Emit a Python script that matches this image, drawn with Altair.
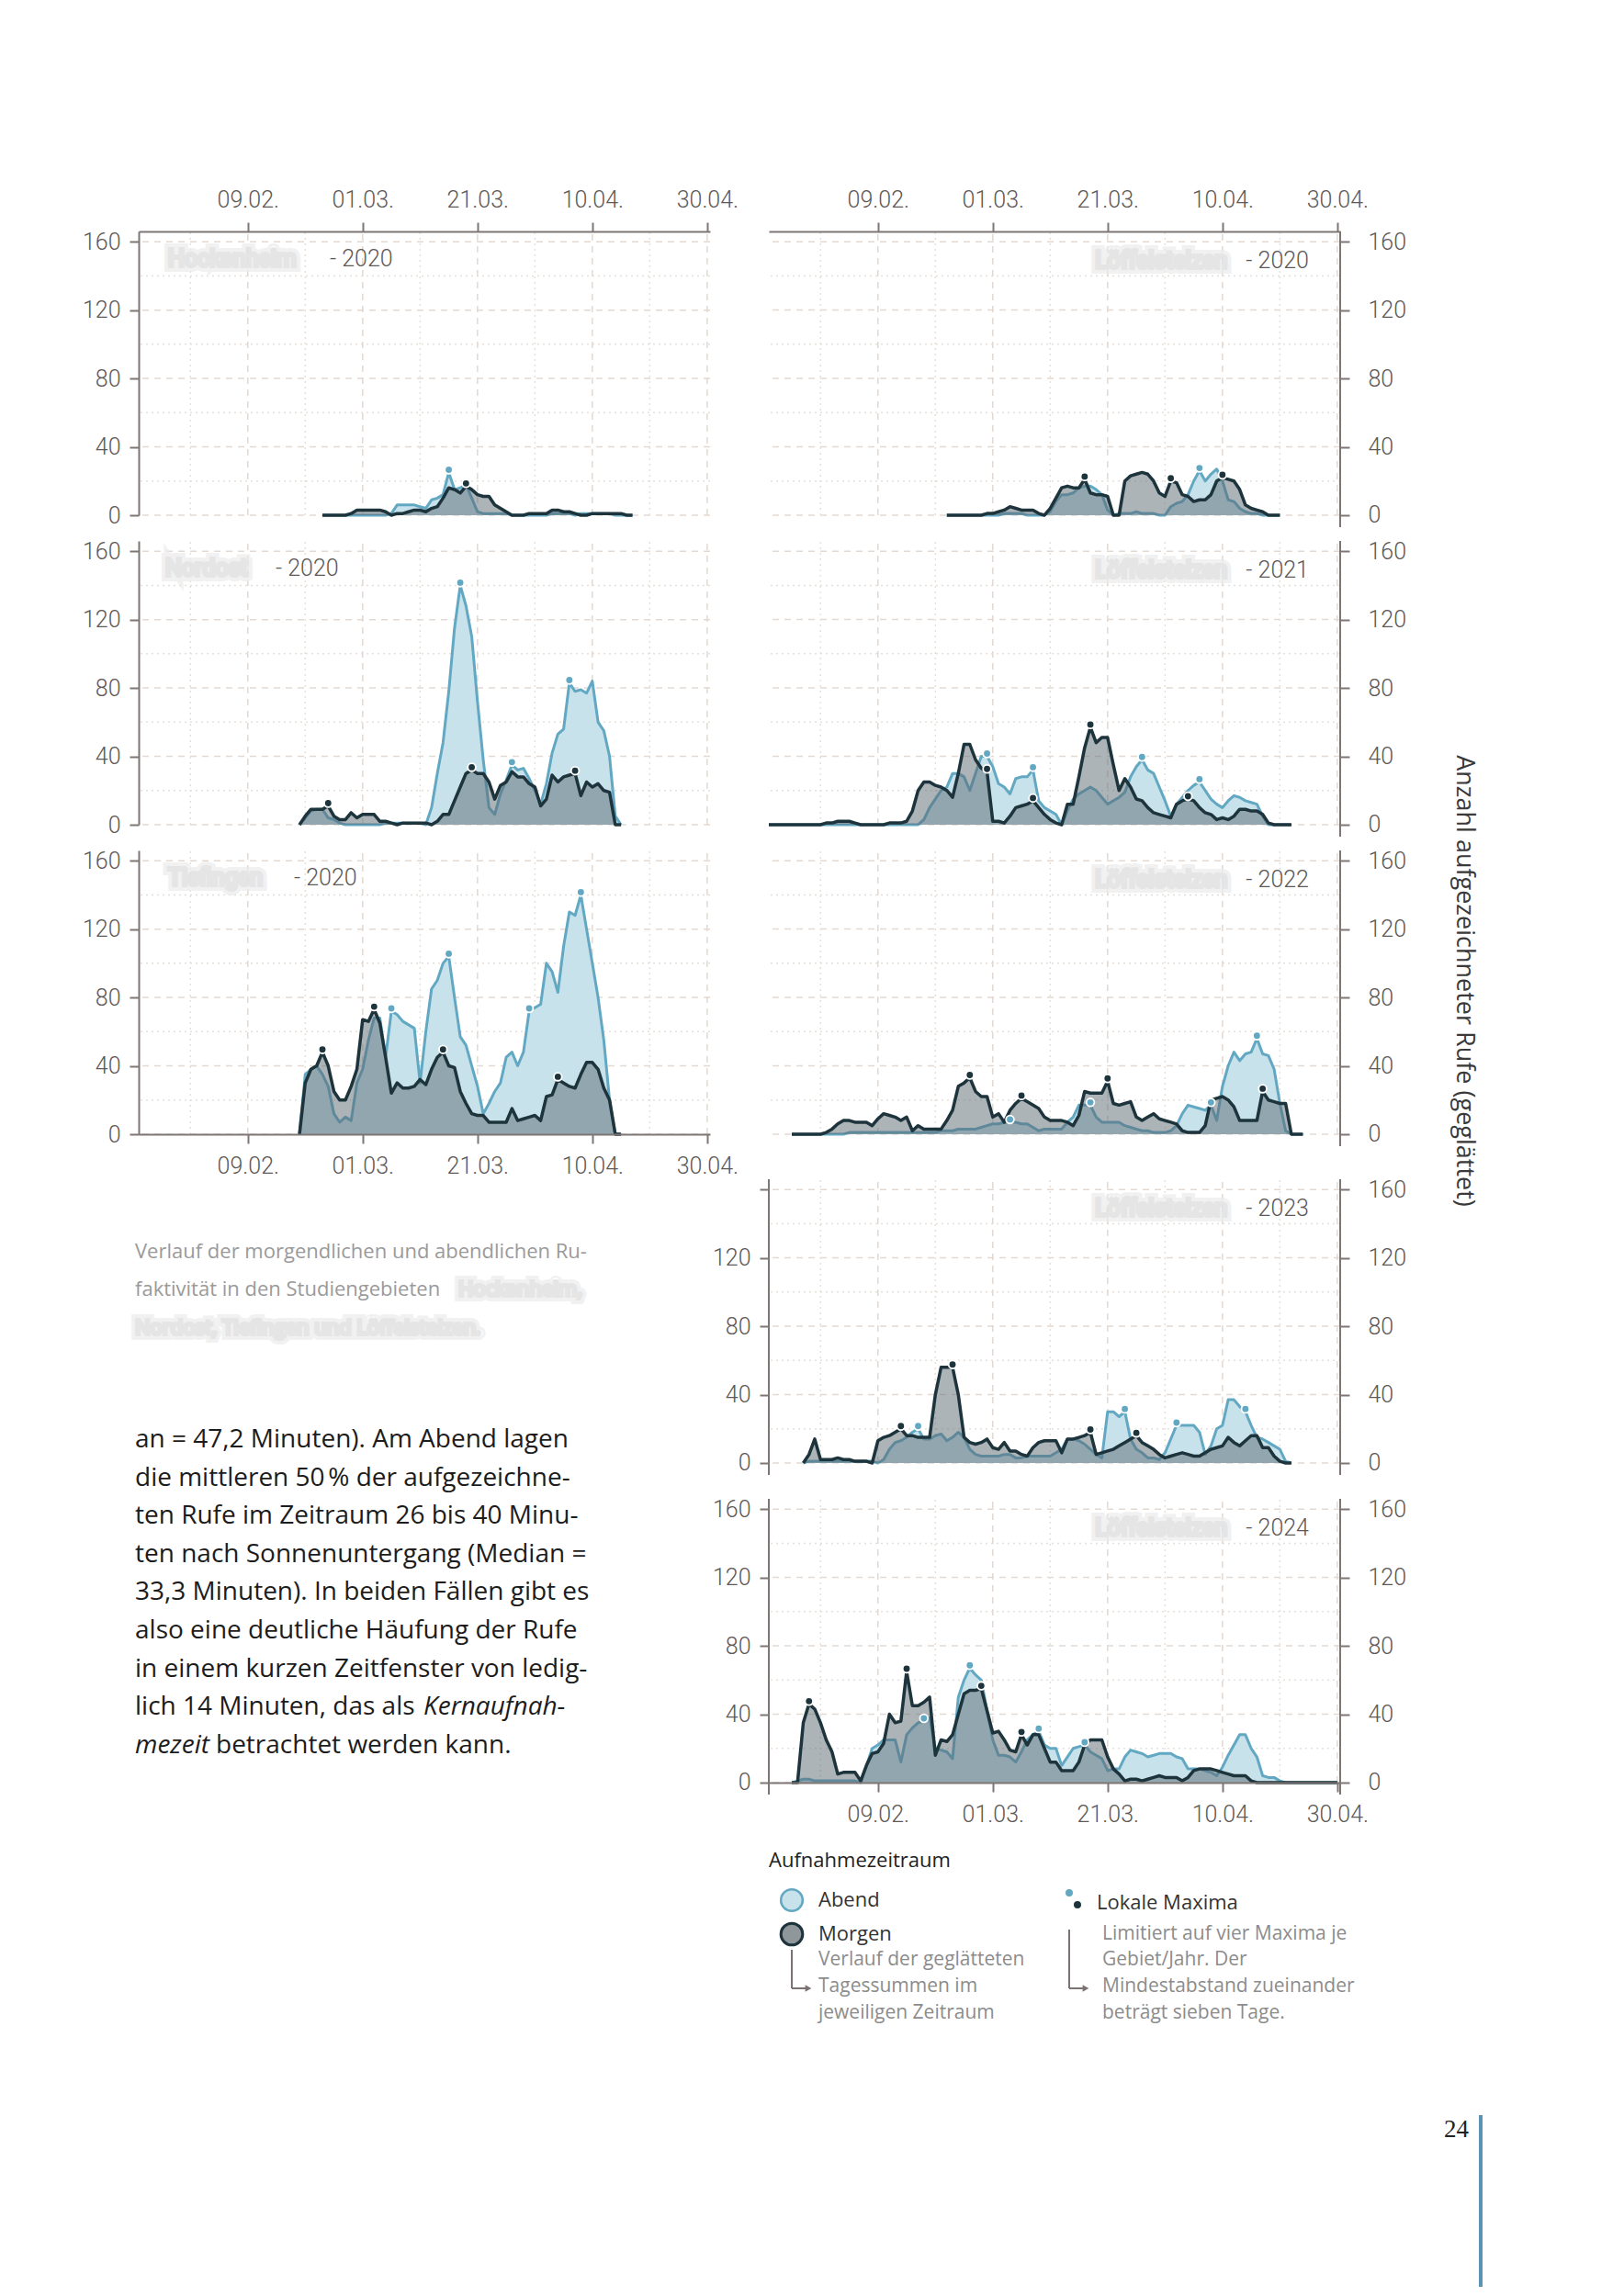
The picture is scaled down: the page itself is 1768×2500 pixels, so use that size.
import datetime as dt
import altair as alt
import pandas as pd

# ---------------------------------------------------------------- data
BASE = dt.date(2021, 1, 21)          # common day-of-year basis, day 0 = 21.01.

X_MAJOR = ["2021-02-09", "2021-03-01", "2021-03-21", "2021-04-10", "2021-04-30"]
X_MINOR = ["2021-01-30", "2021-02-19", "2021-03-11", "2021-03-31", "2021-04-20"]
Y_MAJOR = [0, 40, 80, 120, 160]
Y_MINOR = [20, 60, 100, 140]

# Hockenheim 2020
HOCK20_ABEND_START = 32
HOCK20_ABEND = [0,0,0,0,0,0,0,0,0,0,0,0, 1,6,6,6,6,5,4,9,10,12,25,15,16,18,10,2,1,1,1,1,1,
                0,0,0,0,0,0,0, 1,1,1,1,0,1,1,1,1,1,1,0,0,0,0]
HOCK20_MORGEN_START = 32
HOCK20_MORGEN = [0,0,0,0,0,1,3,3,3,3,3,2,0,1,1,2,3,3,2,4,5,10,16,15,13,17,15,12,11,11,6,4,2,
                 0,0,0,1,1,1,1,3,3,2,2,1,0,0,1,1,1,1,1,1,0,0]
HOCK20_MAX_ABEND = [54]
HOCK20_MAX_MORGEN = [57]

# Nordost 2020
NORD20_ABEND_START = 28
NORD20_ABEND = [0,4,8,9,9,4,3,1,0,0,0,0,0,0,0,1,1,1,1,1,1,1,0,10,30,48,78,115,140,128,110,72,38,
                10,6,18,26,35,32,33,27,20,12,24,42,53,56,83,78,79,77,84,60,55,40,5,0]
NORD20_MORGEN_START = 28
NORD20_MORGEN = [0,5,9,9,9,11,5,3,3,7,4,6,6,6,2,2,1,0,1,1,1,1,1,0,2,6,6,14,22,30,32,30,30,25,15,
                 23,25,31,28,28,24,22,11,15,29,25,28,29,30,17,25,22,24,20,19,0,0]
NORD20_MAX_ABEND = [56, 65, 75]
NORD20_MAX_MORGEN = [33, 58, 76]

# Tiefingen 2020
TIEF20_ABEND_START = 28
TIEF20_ABEND = [0,35,38,40,35,28,12,7,10,8,30,38,55,68,68,45,72,70,66,64,62,30,60,85,90,100,104,80,
                57,52,40,28,12,18,25,30,45,48,40,48,72,74,76,100,95,83,110,130,128,140,120,100,80,55,20,0,0]
TIEF20_MORGEN_START = 28
TIEF20_MORGEN = [0,30,38,40,48,40,25,20,20,28,38,67,66,73,65,45,24,30,27,27,28,32,29,38,45,48,40,39,
                 25,18,12,11,11,7,7,7,7,15,8,9,10,11,8,22,23,32,30,28,27,35,42,42,38,27,20,0,0]
TIEF20_MAX_ABEND = [44, 54, 68, 77]
TIEF20_MAX_MORGEN = [32, 41, 53, 73]

# Löffelstelzen 2020
LOEF20_ABEND_START = 31
LOEF20_ABEND = [0,0,0,0,0,0,0,0,0,0,1,1,1,1,0,0,0,0,2,8,12,12,13,16,17,17,15,12,3,0,1,1,1,2,1,1,1,
                0,0,5,7,8,12,20,26,20,24,27,20,9,8,4,2,1,1,0,0,0,0]
LOEF20_MORGEN_START = 31
LOEF20_MORGEN = [0,0,0,0,0,0,0,1,1,2,3,5,4,3,3,3,1,0,4,10,16,17,16,16,21,13,12,12,11,0,0,20,23,24,
                 25,24,20,13,11,20,19,12,11,8,9,9,12,20,22,21,20,15,6,4,3,2,0,0,0]
LOEF20_MAX_ABEND = [75]
LOEF20_MAX_MORGEN = [55, 70, 79]

# Löffelstelzen 2021
LOEF21_ABEND_START = 0
LOEF21_ABEND = [0]*27 + [3,10,15,20,22,30,30,28,20,30,40,40,34,24,22,18,27,28,28,32,14,10,8,6,0,8,15,
                18,20,22,20,16,12,14,16,19,28,34,38,32,30,22,14,5,12,16,20,23,25,20,15,12,10,14,17,
                16,14,13,12,5,0,0,0,0,0]
LOEF21_MORGEN_START = 0
LOEF21_MORGEN = [0]*10 + [1,1,2,2,2,1,0,0,0,0,0,1,1,1,2,8,20,25,25,23,22,20,16,30,47,47,38,33,31,2,2,
                 1,5,10,11,12,14,10,6,3,1,0,12,12,28,45,57,48,51,51,35,20,27,22,15,14,10,7,6,5,4,12,
                 14,15,14,10,7,6,3,4,3,5,9,9,8,8,6,1,0,0,0,0]
LOEF21_MAX_ABEND = [38, 46, 65, 75]
LOEF21_MAX_MORGEN = [38, 46, 56, 73]

# Löffelstelzen 2022
LOEF22_ABEND_START = 4
LOEF22_ABEND = [0]*10 + [1]*16 + [2,2,2,3,3,3,3,4,5,6,6,7,7,7,6,6,4,2,3,3,3,3,7,10,17,17,17,10,7,7,7,
                7,5,4,3,2,2,1,1,1,2,5,12,17,16,15,14,17,8,28,40,48,43,47,48,56,47,46,38,18,2,0,0,0]
LOEF22_MORGEN_START = 4
LOEF22_MORGEN = [0,0,0,0,0,0,1,3,6,8,8,7,7,7,5,9,12,11,10,8,10,2,5,3,3,3,3,8,14,28,30,33,25,22,22,10,
                 12,7,14,18,21,19,17,15,10,8,8,8,7,5,11,25,24,24,24,31,18,17,18,19,10,8,10,12,9,8,7,
                 6,2,1,1,1,5,20,21,22,20,16,8,8,8,8,25,20,19,18,18,0,0,0]
LOEF22_MAX_ABEND = [42, 56, 77, 85]
LOEF22_MAX_MORGEN = [35, 44, 59, 86]

# Löffelstelzen 2023
LOEF23_ABEND_START = 6
LOEF23_ABEND = [0] + [1]*12 + [0,2,8,12,13,15,18,20,14,14,16,17,13,15,18,15,8,5,4,4,4,4,5,5,3,3,4,4,
                4,4,4,6,8,14,14,13,11,8,5,3,30,30,27,30,14,8,6,3,3,2,6,14,22,22,22,22,18,5,10,20,22,
                37,37,33,30,22,15,14,12,10,8,1,0]
LOEF23_MORGEN_START = 6
LOEF23_MORGEN = [0,5,14,2,2,2,3,2,2,1,1,1,0,13,15,16,18,20,16,16,15,15,15,40,56,56,56,40,15,12,11,12,
                 14,9,8,12,7,7,5,4,9,12,13,13,13,6,14,14,15,16,18,5,6,7,8,10,12,14,16,12,10,8,5,3,4,
                 5,6,5,4,4,6,8,9,10,15,12,10,13,16,16,9,9,4,1,0,0]
LOEF23_MAX_ABEND = [26, 62, 71, 83]
LOEF23_MAX_MORGEN = [23, 32, 56, 64]

# Löffelstelzen 2024
LOEF24_ABEND_START = 4
LOEF24_ABEND = [0,1,2,2,1,1,1,1,1,1,1,1,0,10,20,22,25,25,25,12,28,32,35,36,38,20,19,18,14,50,60,67,63,
                60,42,25,16,16,15,12,18,25,28,30,22,20,20,10,15,20,21,22,18,16,14,7,8,8,15,19,18,17,
                15,16,17,17,17,15,14,8,8,8,7,6,4,9,16,22,28,28,20,15,4,3,3,1] + [0]*10
LOEF24_MORGEN_START = 4
LOEF24_MORGEN = [0,0,35,46,43,35,25,18,5,6,6,6,1,10,17,18,23,40,35,36,65,45,45,47,50,16,25,24,28,40,
                 52,54,54,55,42,29,30,25,19,18,28,22,28,28,20,12,12,7,7,7,12,22,25,25,25,15,8,5,1,2,
                 2,1,2,3,4,3,3,3,1,3,7,8,8,8,7,6,5,4,4,4,1] + [0]*15
LOEF24_MAX_ABEND = [27, 35, 47, 55]
LOEF24_MAX_MORGEN = [7, 24, 37, 44]

CAPTION = ["Verlauf der morgendlichen und abendlichen Ru-",
           "faktivität in den Studiengebieten"]
CAPTION_HIDDEN = ["Hockenheim,", "Nordost, Tiefingen und Löffelstelzen."]
BODY = ["an = 47,2 Minuten). Am Abend lagen",
        "die mittleren 50\u202f% der aufgezeichne-",
        "ten Rufe im Zeitraum 26 bis 40 Minu-",
        "ten nach Sonnenuntergang (Median =",
        "33,3 Minuten). In beiden Fällen gibt es",
        "also eine deutliche Häufung der Rufe",
        "in einem kurzen Zeitfenster von ledig-",
        "lich 14 Minuten, das als"]
BODY_ITALIC_1 = "Kernaufnah-"
BODY_ITALIC_2 = "mezeit"
BODY_LAST = "betrachtet werden kann."
Y_TITLE = "Anzahl aufgezeichneter Rufe (geglättet)"
LEGEND_TITLE = "Aufnahmezeitraum"
LEGEND_NOTE_1 = ["Verlauf der geglätteten", "Tagessummen im", "jeweiligen Zeitraum"]
LEGEND_NOTE_2 = ["Limitiert auf vier Maxima je", "Gebiet/Jahr. Der",
                 "Mindestabstand zueinander", "beträgt sieben Tage."]
PAGE_NO = "24"

# ---------------------------------------------------------------- style
ABEND_LINE = "#62a8c2"
ABEND_FILL = "#c8e2ec"
MORGEN_LINE = "#1e343d"
MORGEN_FILL = "#5b6a71"
AXIS = "#7d7674"
LABEL = "#5e5856"
GRID = "#e3d9d1"
GRID2 = "#e6e0da"
TICK_FONT = "Roboto"
BODY_FONT = "Open Sans"

W = 622
UNIT = 309 / 166.0
ONE = pd.DataFrame({"k": [0]})


def iso(d):
    return (BASE + dt.timedelta(days=int(d))).isoformat()


def dtobj(s):
    y, m, d = map(int, s.split("-"))
    return alt.DateTime(year=y, month=m, date=d, utc=True)


X_DOMAIN = [alt.DateTime(year=2021, month=1, date=21, utc=True),
            alt.DateTime(year=2021, month=4, date=30, hours=12, utc=True)]


def sdf(start, vals):
    return pd.DataFrame({"date": [iso(start + i) for i in range(len(vals))], "value": vals})


def maxdf(days, start, vals):
    return pd.DataFrame({"date": [iso(d) for d in days], "value": [vals[d - start] for d in days]})


def txt(s, x, y, size=25, color=LABEL, font=BODY_FONT, align="left", weight="normal",
        style="normal", angle=0, baseline="middle", blur=False):
    kw = dict(text=s, align=align, baseline=baseline, fontSize=size, color=color, font=font,
              fontWeight=weight, fontStyle=style, angle=angle)
    enc = dict(x=alt.value(x), y=alt.value(y))
    if blur:
        soft = dict(kw, color="#ececec", stroke="#ececec", strokeWidth=12, opacity=0.7)
        core = dict(kw, color="#d8d8d8", stroke="#dedede", strokeWidth=4, opacity=0.6)
        return alt.layer(alt.Chart(ONE).mark_text(**soft).encode(**enc),
                         alt.Chart(ONE).mark_text(**core).encode(**enc))
    return alt.Chart(ONE).mark_text(**kw).encode(**enc)


def yaxis(orient, hide160=False, domain=True):
    kw = dict(orient=orient, values=Y_MAJOR, title=None, grid=False, domain=domain,
              domainColor=AXIS, domainWidth=2, tickColor=AXIS, tickWidth=2, tickSize=10,
              labelFont=TICK_FONT, labelFontSize=25, labelFontWeight=300, labelColor=LABEL,
              labelPadding=20 if orient == "right" else 10, zindex=1)
    if hide160:
        kw["labelExpr"] = "datum.value == 160 ? '' : datum.label"
    return alt.Axis(**kw)


def panel(name, year, right, a_start, a_vals, m_start, m_vals, a_max, m_max, xaxis=None,
          left_axis=False, hide160=False, name_x=32, year_x=208, extra_px=0, extra=()):
    if right:
        ymin = -7 - extra_px / UNIT
        H = 322 + extra_px
    else:
        ymin = 0
        H = 309
    xs = alt.Scale(type="utc", domain=X_DOMAIN)
    ys = alt.Scale(domain=[ymin, 166], nice=False, zero=False)

    layers = []
    layers.append(alt.Chart(pd.DataFrame({"v": Y_MAJOR})).mark_rule(
        color=GRID, strokeWidth=1.5, strokeDash=[7, 6]).encode(
        y=alt.Y("v:Q", scale=ys, axis=yaxis("right" if right else "left", domain=not right))))
    layers.append(alt.Chart(pd.DataFrame({"v": Y_MINOR})).mark_rule(
        color=GRID2, strokeWidth=1.5, strokeDash=[2, 4]).encode(
        y=alt.Y("v:Q", scale=ys, axis=None)))
    if xaxis:
        xax = alt.Axis(orient=xaxis, values=[dtobj(s) for s in X_MAJOR], format="%d.%m.",
                       title=None, grid=False, domainColor=AXIS, domainWidth=2, tickColor=AXIS,
                       tickWidth=2, tickSize=10, labelFont=TICK_FONT, labelFontSize=25,
                       labelFontWeight=300, labelColor=LABEL, labelPadding=12,
                       labelFlush=False, labelOverlap=False, zindex=1,
                       offset=-13 if (right and xaxis == "bottom") else 0)
    else:
        xax = None
    vmaj = pd.DataFrame({"d": X_MAJOR, "lo": 0, "hi": 166})
    vmin = pd.DataFrame({"d": X_MINOR, "lo": 0, "hi": 166})
    layers.append(alt.Chart(vmaj).mark_rule(color=GRID, strokeWidth=1.5, strokeDash=[7, 6]).encode(
        x=alt.X("d:T", scale=xs, axis=xax), y=alt.Y("lo:Q", scale=ys, axis=None), y2="hi:Q"))
    layers.append(alt.Chart(vmin).mark_rule(color=GRID2, strokeWidth=1.5, strokeDash=[2, 4]).encode(
        x=alt.X("d:T", scale=xs, axis=None), y=alt.Y("lo:Q", scale=ys, axis=None), y2="hi:Q"))

    adf = sdf(a_start, a_vals)
    mdf = sdf(m_start, m_vals)
    X = alt.X("date:T", scale=xs, axis=None)
    Y = alt.Y("value:Q", scale=ys, axis=None)
    Yleft = alt.Y("value:Q", scale=ys, axis=yaxis("left", hide160, domain=False)) if left_axis else Y

    layers += [
        alt.Chart(adf).mark_area(color=ABEND_FILL, opacity=1).encode(x=X, y=Yleft, y2=alt.datum(0)),
        alt.Chart(adf).mark_line(color=ABEND_LINE, strokeWidth=3, strokeJoin="round").encode(x=X, y=Y),
        alt.Chart(mdf).mark_area(color=MORGEN_FILL, opacity=0.5).encode(x=X, y=Y, y2=alt.datum(0)),
        alt.Chart(mdf).mark_line(color=MORGEN_LINE, strokeWidth=3.5, strokeJoin="round").encode(x=X, y=Y),
        alt.Chart(maxdf(a_max, a_start, a_vals)).mark_circle(
            color=ABEND_LINE, size=75, opacity=1, stroke="white", strokeWidth=1.8,
            yOffset=-3).encode(x=X, y=Y),
        alt.Chart(maxdf(m_max, m_start, m_vals)).mark_circle(
            color=MORGEN_LINE, size=75, opacity=1, stroke="white", strokeWidth=1.8,
            yOffset=-3).encode(x=X, y=Y),
    ]

    if right:
        dom = pd.DataFrame({"lo": [-7], "hi": [166]})
        layers.append(alt.Chart(dom).mark_rule(color=AXIS, strokeWidth=2).encode(
            x=alt.value(W), y=alt.Y("lo:Q", scale=ys, axis=None), y2="hi:Q"))
        if left_axis:
            layers.append(alt.Chart(dom).mark_rule(color=AXIS, strokeWidth=2).encode(
                x=alt.value(0), y=alt.Y("lo:Q", scale=ys, axis=None), y2="hi:Q"))

    if right:
        layers += [txt(name, 499, 32, align="right", font=TICK_FONT, blur=True),
                   txt("- " + year, 588, 32, align="right", font=TICK_FONT, weight=300)]
    else:
        layers += [txt(name, name_x, 30, font=TICK_FONT, blur=True),
                   txt("- " + year, year_x, 30, font=TICK_FONT, weight=300)]
    layers += list(extra)

    return alt.layer(*layers).properties(width=W, height=H).resolve_axis(
        x="independent", y="independent")


# ---------------------------------------------------------------- text block (left, below)
CAP_Y = [79, 120, 162]
BODY_Y = [284, 326, 367, 409, 450, 492, 534, 575, 617]
text_layers = [txt(CAPTION[0], -4, CAP_Y[0], size=22, color="#9a9a9a"),
               txt(CAPTION[1], -4, CAP_Y[1], size=22, color="#9a9a9a"),
               txt(CAPTION_HIDDEN[0], 348, CAP_Y[1], size=22, blur=True),
               txt(CAPTION_HIDDEN[1], -4, CAP_Y[2], size=22, blur=True)]
for i, line in enumerate(BODY):
    text_layers.append(txt(line, -4, BODY_Y[i], size=28, color="#1c1c1c"))
text_layers += [txt(BODY_ITALIC_1, 310, BODY_Y[7], size=28, color="#1c1c1c", style="italic"),
                txt(BODY_ITALIC_2, -4, BODY_Y[8], size=28, color="#1c1c1c", style="italic"),
                txt(BODY_LAST, 84, BODY_Y[8], size=28, color="#1c1c1c")]
TEXT_CELL = alt.layer(*text_layers).properties(width=W, height=1)
BLANK_CELL = alt.Chart(ONE).mark_point(opacity=0).encode(
    x=alt.value(0), y=alt.value(0)).properties(width=W, height=1)

r3_extra = [txt(Y_TITLE, 757, 142, size=27, color="#3a3a3a", align="center", angle=90)]

ARROW = "#7a7371"
NOTE = "#8c8c8c"
r5_extra = [
    txt(LEGEND_TITLE, 0, 394, size=22, color="#222222", weight=500),
    alt.Chart(ONE).mark_circle(size=560, color=ABEND_FILL, opacity=1, stroke=ABEND_LINE,
                               strokeWidth=2.5).encode(x=alt.value(25), y=alt.value(437)),
    txt("Abend", 54, 437, size=22, color="#333333"),
    alt.Chart(ONE).mark_circle(size=560, color="#8f979b", opacity=1, stroke=MORGEN_LINE,
                               strokeWidth=3).encode(x=alt.value(25), y=alt.value(474)),
    txt("Morgen", 54, 474, size=22, color="#333333"),
    alt.Chart(ONE).mark_rule(color=ARROW, strokeWidth=2).encode(
        x=alt.value(25), y=alt.value(491), y2=alt.value(533)),
    alt.Chart(ONE).mark_rule(color=ARROW, strokeWidth=2).encode(
        x=alt.value(25), x2=alt.value(40), y=alt.value(533)),
    alt.Chart(ONE).mark_point(shape="triangle-right", filled=True, size=60, color=ARROW,
                              opacity=1).encode(x=alt.value(43), y=alt.value(533)),
    alt.Chart(ONE).mark_circle(size=90, color=ABEND_LINE, opacity=1, stroke="white",
                               strokeWidth=1.5).encode(x=alt.value(327), y=alt.value(429)),
    alt.Chart(ONE).mark_circle(size=90, color=MORGEN_LINE, opacity=1, stroke="white",
                               strokeWidth=1.5).encode(x=alt.value(336), y=alt.value(442)),
    txt("Lokale Maxima", 357, 440, size=22, color="#333333"),
    alt.Chart(ONE).mark_rule(color=ARROW, strokeWidth=2).encode(
        x=alt.value(327), y=alt.value(469), y2=alt.value(533)),
    alt.Chart(ONE).mark_rule(color=ARROW, strokeWidth=2).encode(
        x=alt.value(327), x2=alt.value(342), y=alt.value(533)),
    alt.Chart(ONE).mark_point(shape="triangle-right", filled=True, size=60, color=ARROW,
                              opacity=1).encode(x=alt.value(345), y=alt.value(533)),
    txt(PAGE_NO, 762, 687, size=27, color="#222222", font="Liberation Serif", align="right"),
    alt.Chart(ONE).mark_rule(color="#5d94b5", strokeWidth=4).encode(
        x=alt.value(775), y=alt.value(671), y2=alt.value(858)),
]
for i, line in enumerate(LEGEND_NOTE_1):
    r5_extra.append(txt(line, 54, [502, 531, 560][i], size=21, color=NOTE))
for i, line in enumerate(LEGEND_NOTE_2):
    r5_extra.append(txt(line, 363, [474, 502, 531, 560][i], size=21, color=NOTE))

# ---------------------------------------------------------------- panels
P1 = panel("Hockenheim", "2020", False, HOCK20_ABEND_START, HOCK20_ABEND, HOCK20_MORGEN_START,
           HOCK20_MORGEN, HOCK20_MAX_ABEND, HOCK20_MAX_MORGEN, xaxis="top", name_x=32, year_x=208)
P2 = panel("Nordost", "2020", False, NORD20_ABEND_START, NORD20_ABEND, NORD20_MORGEN_START,
           NORD20_MORGEN, NORD20_MAX_ABEND, NORD20_MAX_MORGEN, name_x=29, year_x=149)
P3 = panel("Tiefingen", "2020", False, TIEF20_ABEND_START, TIEF20_ABEND, TIEF20_MORGEN_START,
           TIEF20_MORGEN, TIEF20_MAX_ABEND, TIEF20_MAX_MORGEN, xaxis="bottom", name_x=32,
           year_x=169)
R1 = panel("Löffelstelzen", "2020", True, LOEF20_ABEND_START, LOEF20_ABEND, LOEF20_MORGEN_START,
           LOEF20_MORGEN, LOEF20_MAX_ABEND, LOEF20_MAX_MORGEN, xaxis="top")
R2 = panel("Löffelstelzen", "2021", True, LOEF21_ABEND_START, LOEF21_ABEND, LOEF21_MORGEN_START,
           LOEF21_MORGEN, LOEF21_MAX_ABEND, LOEF21_MAX_MORGEN)
R3 = panel("Löffelstelzen", "2022", True, LOEF22_ABEND_START, LOEF22_ABEND, LOEF22_MORGEN_START,
           LOEF22_MORGEN, LOEF22_MAX_ABEND, LOEF22_MAX_MORGEN, extra_px=21, extra=r3_extra)
R4 = panel("Löffelstelzen", "2023", True, LOEF23_ABEND_START, LOEF23_ABEND, LOEF23_MORGEN_START,
           LOEF23_MORGEN, LOEF23_MAX_ABEND, LOEF23_MAX_MORGEN, left_axis=True, hide160=True,
           extra_px=11)
R5 = panel("Löffelstelzen", "2024", True, LOEF24_ABEND_START, LOEF24_ABEND, LOEF24_MORGEN_START,
           LOEF24_MORGEN, LOEF24_MAX_ABEND, LOEF24_MAX_MORGEN, xaxis="bottom", left_axis=True,
           extra=r5_extra)

chart = alt.concat(P1, R1, P2, R2, P3, R3, TEXT_CELL, R4, BLANK_CELL, R5,
                   columns=2, spacing={"row": 15, "column": 64}, bounds="flush",
                   align="each").properties(
    padding={"left": 81, "top": 197, "right": 0, "bottom": 0},
    background="white",
).configure_view(strokeWidth=0)

chart.save("out.html", embed_options={"renderer": "svg", "actions": False})
